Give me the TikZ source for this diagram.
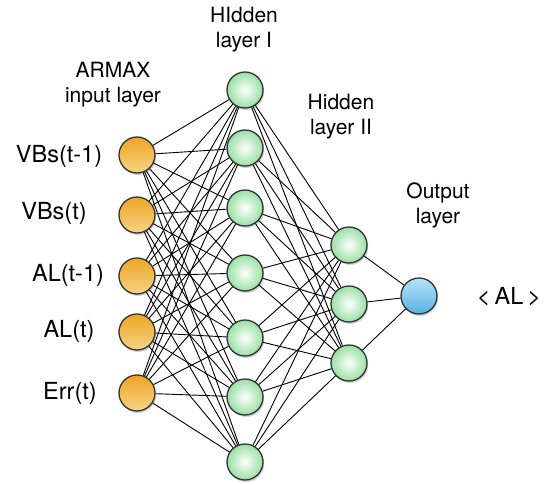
\documentclass[tikz,border=0pt]{standalone}
\usepackage{fontspec}
\setmainfont{TeX Gyre Heros}
\usetikzlibrary{shadows}

\definecolor{inorange}{HTML}{EDA524}
\definecolor{inlight}{HTML}{F7D385}
\definecolor{hidgreen}{HTML}{98E0A4}
\definecolor{outtop}{HTML}{B8E2F8}
\definecolor{outbottom}{HTML}{55B2E6}

\tikzset{
    neuron/.style={circle, draw=black!80, line width=1.3pt, minimum size=36pt, inner sep=0pt,
        drop shadow={opacity=0.35, shadow xshift=1.2pt, shadow yshift=-2pt}},
    inneuron/.style={neuron, top color=inorange, bottom color=inlight},
    hidneuron/.style={neuron, inner color=white, outer color=hidgreen},
    outneuron/.style={neuron, top color=outtop, bottom color=outbottom},
    link/.style={line width=0.9pt, black},
    inlabel/.style={font=\fontsize{23.5}{28}\selectfont},
    layerlabel/.style={align=center, font=\fontsize{21}{25}\selectfont}
}

\begin{document}
\begin{tikzpicture}[x=1pt, y=-1pt]
    \useasboundingbox (0, 0) rectangle (550, 485);

    % neurons
    \foreach \n/\y in {1/155, 2/215, 3/276, 4/332, 5/393} {
        \node[inneuron] (in\n) at (137, \y) {};
    }
    \foreach \n/\y in {1/90, 2/148, 3/208, 4/273, 5/338, 6/397, 7/462} {
        \node[hidneuron] (ha\n) at (245, \y) {};
    }
    \foreach \n/\y in {1/245, 2/304, 3/363} {
        \node[hidneuron] (hb\n) at (349, \y) {};
    }
    \node[outneuron] (out) at (419, 296) {};

    % connections
    \foreach \i in {1, ..., 5} {
        \foreach \j in {1, ..., 7} {
            \draw[link] (in\i) -- (ha\j);
        }
    }
    \foreach \i in {1, ..., 7} {
        \foreach \j in {1, 2, 3} {
            \draw[link] (ha\i) -- (hb\j);
        }
    }
    \foreach \i in {1, 2, 3} {
        \draw[link] (hb\i) -- (out);
    }

    % labels
    \node[inlabel] (lvbs1) at (59, 156) {VBs(t-1)};
    \node[inlabel] (lvbs) at (54, 213) {VBs(t)};
    \node[inlabel] (lal1) at (68, 275) {AL(t-1)};
    \node[inlabel] (lal) at (69, 331) {AL(t)};
    \node[inlabel] (lerr) at (70, 393) {Err(t)};
    \node[inlabel] (lout) at (509, 297) {<\,AL\,>};

    \node[layerlabel] (tin) at (113, 85) {ARMAX\\input layer};
    \node[layerlabel] (tha) at (244, 30) {HIdden\\layer I};
    \node[layerlabel] (thb) at (341, 117) {Hidden\\layer II};
    \node[layerlabel] (tout) at (438, 205) {Output\\layer};
\end{tikzpicture}
\end{document}
